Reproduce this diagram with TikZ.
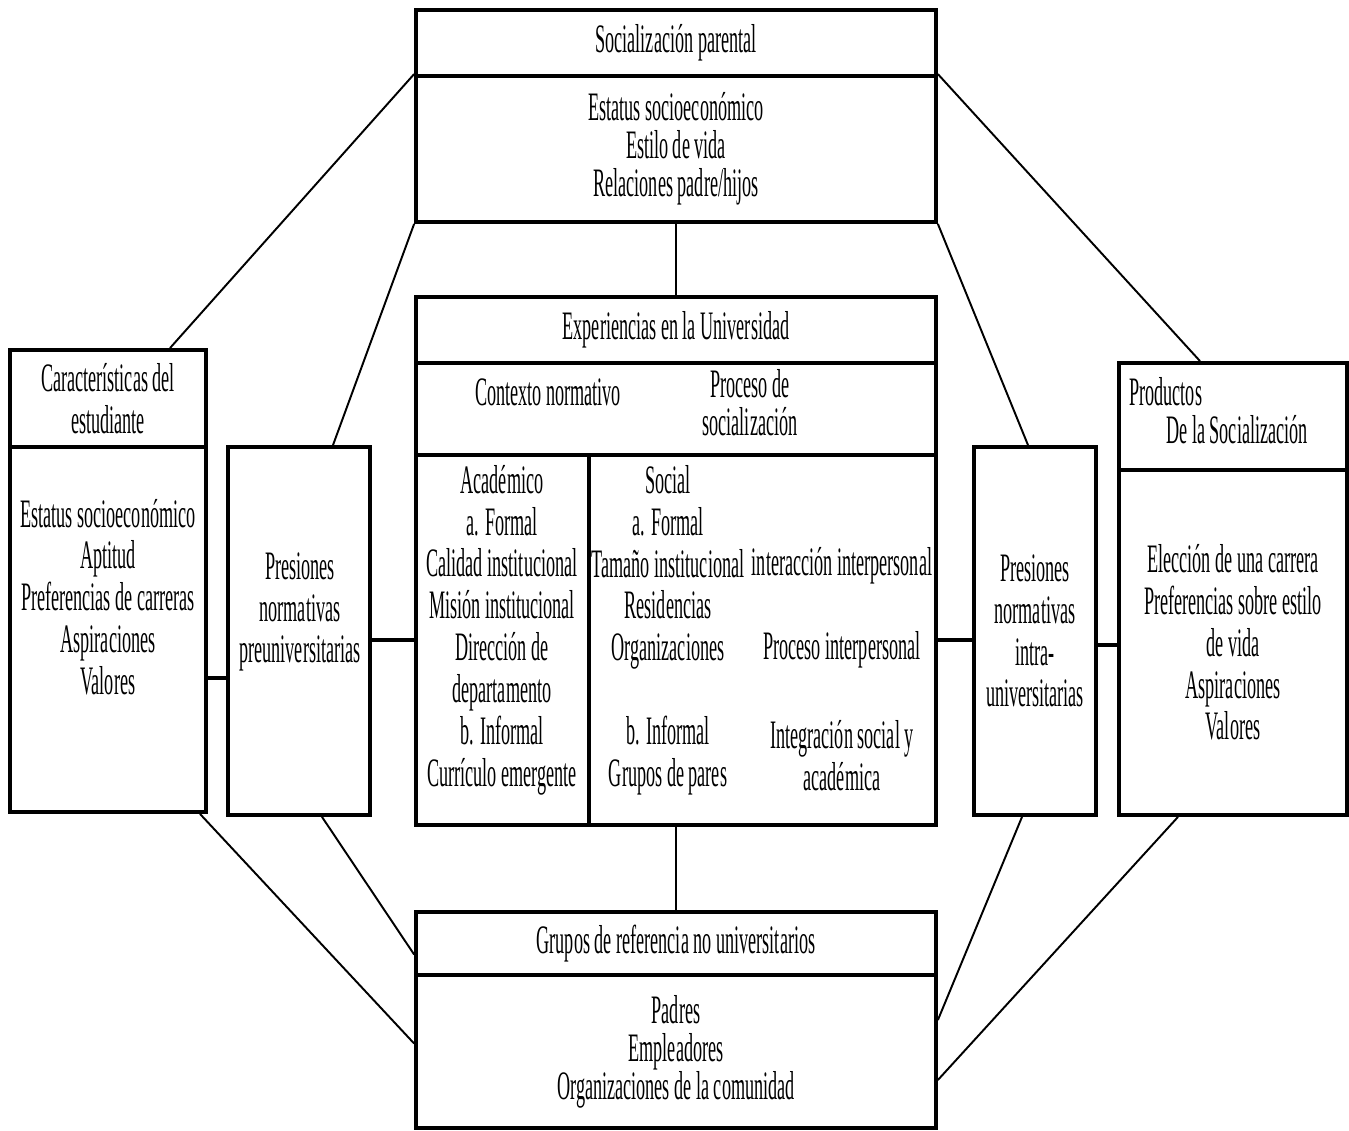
\documentclass[tikz,border=0pt]{standalone}
\usepackage{fontspec}
\setmainfont{Liberation Serif}[FakeStretch=0.45]
\newcommand{\widelines}{\fontsize{23}{23.8}\selectfont\lineskiplimit=-30pt}
\newcommand{\narrowlines}{\fontsize{23}{21.6}\selectfont\lineskiplimit=-30pt}

\begin{document}
\begin{tikzpicture}[x=0.02cm, y=-0.02cm,
    box/.style={draw, rectangle, line width=2.2pt, inner sep=0pt, align=center, font=\narrowlines},
    txt/.style={inner sep=0pt, align=center, font=\widelines},
    link/.style={line width=1.1pt},
    joint/.style={line width=2.2pt}]
    \useasboundingbox (0,0) rectangle (1349,1130);

    % Socializacion parental
    \node[box, minimum width=10.4cm, minimum height=1.32cm] (parhead) at (676,43) {Socialización parental};
    \node[box, minimum width=10.4cm, minimum height=2.92cm] (parbody) at (676,149)
        {Estatus socioeconómico\\Estilo de vida\\Relaciones padre/hijos};

    % Experiencias en la Universidad
    \node[box, minimum width=10.4cm, minimum height=1.32cm] (unihead) at (676,330) {Experiencias en la Universidad};
    \node[box, minimum width=10.4cm, minimum height=1.84cm] (unisub) at (676,409) {};
    \node[box, minimum width=10.4cm, minimum height=7.4cm] (unilow) at (676,640) {};
    \draw[joint] ([xshift=-1.74cm]unilow.north) -- ([xshift=-1.74cm]unilow.south);
    \node[txt] (contexto) at (548,392) {Contexto normativo};
    \node[txt, font=\narrowlines] (proceso) at (750,403) {Proceso de\\socialización};
    \node[txt] (academico) at (502,630) {Académico\\a. Formal\\Calidad institucional\\Misión institucional\\Dirección de\\departamento\\b. Informal\\Currículo emergente};
    \node[txt] (social) at (668,630) {Social\\a. Formal\\Tamaño institucional\\Residencias\\Organizaciones\\[23.8pt]b. Informal\\Grupos de pares};
    \node[txt] (interaccion) at (842,566) {interacción interpersonal};
    \node[txt] (procinter) at (842,650) {Proceso interpersonal};
    \node[txt] (integracion) at (842,756) {Integración social y\\académica};

    % Grupos de referencia
    \node[box, minimum width=10.4cm, minimum height=1.26cm] (refhead) at (676,943.5) {Grupos de referencia no universitarios};
    \node[box, minimum width=10.4cm, minimum height=3.06cm] (refbody) at (676,1051.5)
        {Padres\\Empleadores\\Organizaciones de la comunidad};

    % Caracteristicas del estudiante
    \node[box, font=\widelines, minimum width=3.92cm, minimum height=1.94cm] (studhead) at (108,398.5)
        {Características del\\estudiante};
    \node[box, minimum width=3.92cm, minimum height=7.3cm] (studbody) at (108,629.5) {};
    \node[txt] (studtext) at (108,597) {Estatus socioeconómico\\Aptitud\\Preferencias de carreras\\Aspiraciones\\Valores};

    % Presiones preuniversitarias
    \node[box, minimum width=2.84cm, minimum height=7.36cm] (prebox) at (299,631) {};
    \node[txt] (pretext) at (300,612) {Presiones\\normativas\\preuniversitarias};

    % Presiones intra-universitarias
    \node[box, font=\widelines, minimum width=2.44cm, minimum height=7.36cm] (intrabox) at (1035,631)
        {Presiones\\normativas\\intra-\\universitarias};

    % Productos de la socializacion
    \node[box, minimum width=4.56cm, minimum height=2.14cm] (prodhead) at (1233,416.5) {};
    \node[txt, font=\narrowlines, align=left, anchor=west] (prodtitle) at (1129,411)
        {Productos\\\hspace*{0.74cm}De la Socialización};
    \node[box, font=\widelines, minimum width=4.56cm, minimum height=6.9cm] (prodbody) at (1233,642.5)
        {Elección de una carrera\\Preferencias sobre estilo\\de vida\\Aspiraciones\\Valores};

    % Connectors
    \draw[link] (parbody.north west) -- ([xshift=1.24cm]studhead.north);
    \draw[link] (parbody.south west) -- ([xshift=0.68cm]prebox.north);
    \draw[link] (parbody.north east) -- ([xshift=-0.66cm]prodhead.north);
    \draw[link] (parbody.south east) -- ([xshift=-0.14cm]intrabox.north);
    \draw[link] (parbody.south) -- (unihead.north);
    \draw[link] (unilow.south) -- (refhead.north);
    \draw[link] ([xshift=1.84cm]studbody.south) -- ([yshift=0.16cm]refbody.west);
    \draw[link] ([xshift=0.46cm]prebox.south) -- ([yshift=-0.22cm]refhead.west);
    \draw[link] ([xshift=-0.26cm]intrabox.south) -- ([yshift=0.63cm]refbody.east);
    \draw[link] ([xshift=-1.1cm]prodbody.south) -- ([yshift=-0.57cm]refbody.east);
    \draw[joint] ([yshift=-0.97cm]studbody.east) -- ([yshift=-0.97cm]studbody.east -| prebox.west);
    \draw[joint] (unilow.west) -- (unilow.west -| prebox.east);
    \draw[joint] (unilow.east) -- (unilow.east -| intrabox.west);
    \draw[joint] ([yshift=-0.1cm]unilow.east -| intrabox.east) -- ([yshift=-0.1cm]unilow.east -| prodbody.west);
\end{tikzpicture}
\end{document}
